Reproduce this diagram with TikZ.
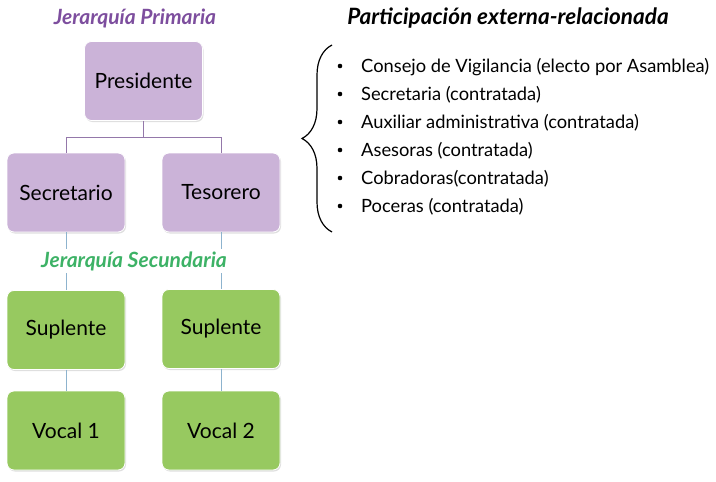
\documentclass[tikz,border=0pt]{standalone}
\usepackage{fontspec}
\setmainfont{Lato}
\usetikzlibrary{shadows,decorations.pathreplacing}
\definecolor{pfill}{HTML}{CBB3D8}
\definecolor{gfill}{HTML}{97C960}
\definecolor{ptitle}{HTML}{7D4E9E}
\definecolor{gtitle}{HTML}{3DB266}
\definecolor{pline}{HTML}{9478AA}
\definecolor{gline}{HTML}{8DB3CE}
\tikzset{
  orgbox/.style={rounded corners=7pt, minimum width=118pt, minimum height=79pt,
    inner sep=0pt, draw=white, line width=0.8pt,
    font=\fontsize{21}{25}\selectfont,
    drop shadow={shadow xshift=1pt, shadow yshift=-1.5pt, opacity=0.25}},
  pbox/.style={orgbox, fill=pfill},
  gbox/.style={orgbox, fill=gfill},
  plink/.style={draw=pline, line width=0.8pt},
  glink/.style={draw=gline, line width=0.8pt},
  ttl/.style={font=\fontsize{21}{24}\selectfont\bfseries\itshape, anchor=base},
  item/.style={font=\fontsize{18.3}{21}\selectfont, anchor=base west, inner sep=0pt},
  bul/.style={circle, fill=black, inner sep=0pt, minimum size=4.6pt}
}
\begin{document}
\begin{tikzpicture}[x=1pt,y=-1pt]
\useasboundingbox[fill=white] (0,0) rectangle (716,482);
% titles
\node[ttl, text=ptitle] (t1) at (135,24) {Jerarquía Primaria};
\node[ttl, text=black, font=\fontsize{22.5}{25}\selectfont\bfseries\itshape] (t3) at (508,24) {Participación externa-relacionada};
% boxes
\node[pbox] (pres) at (143.5,81) {Presidente};
\node[pbox] (sec) at (66,192.5) {Secretario};
\node[pbox] (tes) at (221,192.5) {Tesorero};
\node[gbox] (sup1) at (66,330) {Suplente};
\node[gbox] (sup2) at (221,329) {Suplente};
\node[gbox] (voc1) at (66,430.5) {Vocal 1};
\node[gbox] (voc2) at (221,430.5) {Vocal 2};
% connectors
\coordinate (j) at (143.5,137);
\draw[plink] (pres.south) -- (j) -| (sec.north);
\draw[plink] (j) -| (tes.north);
\draw[glink] (sec.south) -- (sup1.north);
\draw[glink] (tes.south) -- (sup2.north);
\draw[glink] (sup1.south) -- (voc1.north);
\draw[glink] (sup2.south) -- (voc2.north);
\node[ttl, text=gtitle, fill=white, inner sep=2pt] (t2) at (134,267) {Jerarquía Secundaria};
% brace
\coordinate (b1) at (332,232);
\coordinate (b2) at (332,45);
\draw[line width=1.2pt, decorate, decoration={brace, amplitude=30pt, aspect=0.5}] (b1) -- (b2);
% list
\foreach \i/\txt in {0/{Consejo de Vigilancia (electo por Asamblea)},
  1/{Secretaria (contratada)},
  2/{Auxiliar administrativa (contratada)},
  3/{Asesoras (contratada)},
  4/{Cobradoras(contratada)},
  5/{Poceras (contratada)}}{
  \node[bul] (b\i) at (340,66+28*\i) {};
  \node[item] (l\i) at (361,72+28*\i) {\txt};
}
\end{tikzpicture}
\end{document}
